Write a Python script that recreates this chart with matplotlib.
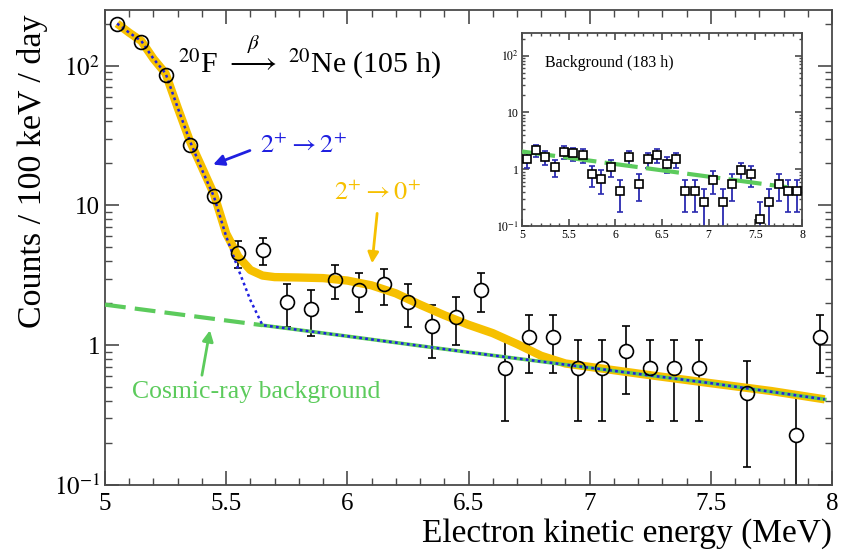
import matplotlib
matplotlib.use("Agg")
import matplotlib.pyplot as plt
from matplotlib.ticker import FixedLocator, LogLocator, MultipleLocator, NullFormatter

plt.rcParams["font.family"] = ["Liberation Serif", "DejaVu Serif"]
plt.rcParams["mathtext.fontset"] = "stix"

# 20F run (105 h): counts / 100 keV / day
E_MAIN = [5.05, 5.15, 5.25, 5.35, 5.45, 5.55, 5.65, 5.75, 5.85, 5.95,
          6.05, 6.15, 6.25, 6.35, 6.45, 6.55, 6.65, 6.75, 6.85, 6.95,
          7.05, 7.15, 7.25, 7.35, 7.45, 7.65, 7.85, 7.95]
RATE_MAIN = [200, 148, 86, 27, 11.6, 4.55, 4.8, 2.05, 1.82, 2.95,
             2.5, 2.73, 2.05, 1.37, 1.6, 2.5, 0.685, 1.14, 1.14, 0.685,
             0.685, 0.91, 0.685, 0.685, 0.685, 0.455, 0.228, 1.14]
ERR_MAIN = [0, 0, 0, 0, 0, 1.0, 1.05, 0.69, 0.65, 0.82,
            0.76, 0.79, 0.69, 0.56, 0.6, 0.76, 0.4, 0.51, 0.51, 0.4,
            0.4, 0.46, 0.4, 0.4, 0.4, 0.32, 0.227, 0.51]

# total fit (2+ -> 0+ included)
FIT_X = [5.05, 5.10, 5.15, 5.20, 5.25, 5.30, 5.35, 5.40, 5.45, 5.50,
         5.55, 5.60, 5.65, 5.70, 5.80, 5.90, 6.00, 6.10, 6.20, 6.30,
         6.40, 6.50, 6.60, 6.70, 6.80, 6.90, 7.00, 7.25, 7.50, 7.75, 7.97]
FIT_Y = [200, 172, 150, 112, 88, 50, 29, 18.7, 12, 6.3,
         4.3, 3.45, 3.15, 3.07, 3.05, 3.02, 2.9, 2.68, 2.35, 1.95,
         1.64, 1.40, 1.22, 1.02, 0.84, 0.74, 0.70, 0.61, 0.535, 0.47, 0.41]

# 2+ -> 2+ component on top of background
BLUE_X = [5.05, 5.10, 5.15, 5.20, 5.25, 5.30, 5.35, 5.40, 5.45, 5.50,
          5.55, 5.60, 5.65, 6.00, 6.50, 7.00, 7.50, 7.97]
BLUE_Y = [200, 172, 150, 112, 88, 50, 29, 18, 11.5, 6.0,
          3.5, 2.1, 1.39, 1.16, 0.89, 0.69, 0.535, 0.41]

# cosmic-ray background
BKG_X = [5.0, 5.65, 6.0, 6.5, 7.0, 7.5, 7.97]
BKG_Y = [1.95, 1.39, 1.16, 0.89, 0.69, 0.535, 0.41]

# background run (183 h)
E_BG = [5.05, 5.15, 5.25, 5.35, 5.45, 5.55, 5.65, 5.75, 5.85, 5.95,
        6.05, 6.15, 6.25, 6.35, 6.45, 6.55, 6.65, 6.75, 6.85, 6.95,
        7.05, 7.15, 7.25, 7.35, 7.45, 7.55, 7.65, 7.75, 7.85, 7.95]
RATE_BG = [1.49, 2.14, 1.64, 1.1, 2.03, 1.9, 1.78, 0.82, 0.67, 1.1,
           0.41, 1.66, 0.55, 1.49, 1.78, 1.25, 1.49, 0.41, 0.41, 0.263,
           0.65, 0.263, 0.55, 0.96, 0.82, 0.133, 0.263, 0.55, 0.41, 0.41]
ERR_BG = [0.44, 0.53, 0.46, 0.38, 0.52, 0.5, 0.48, 0.33, 0.3, 0.38,
          0.23, 0.47, 0.27, 0.44, 0.48, 0.4, 0.44, 0.23, 0.23, 0.186,
          0.29, 0.186, 0.27, 0.35, 0.33, 0.13, 0.186, 0.27, 0.23, 0.23]
BG_LINE_X = [5.0, 7.85]
BG_LINE_Y = [2.05, 0.48]

X_TICKS = [5, 5.5, 6, 6.5, 7, 7.5, 8]
X_LABELS = ["5", "5.5", "6", "6.5", "7", "7.5", "8"]
Y_TICKS = [0.1, 1, 10, 100]
Y_LABELS = [r"$10^{-1}$", "1", "10", r"$10^{2}$"]

ORANGE = "#F6C000"
BLUE = "#1F1FE0"
GREEN = "#5CCB5C"
FRAME = "#4a4a4a"


def style_axes(ax, major_len, minor_len, label_size):
    ax.set_yscale("log")
    ax.set_xlim(5, 8)
    ax.set_ylim(0.1, 250)
    ax.xaxis.set_major_locator(FixedLocator(X_TICKS))
    ax.set_xticklabels(X_LABELS)
    ax.xaxis.set_minor_locator(MultipleLocator(0.1))
    ax.yaxis.set_major_locator(FixedLocator(Y_TICKS))
    ax.set_yticklabels(Y_LABELS)
    ax.yaxis.set_minor_locator(LogLocator(base=10, subs=range(2, 10)))
    ax.yaxis.set_minor_formatter(NullFormatter())
    ax.tick_params(which="both", direction="in", top=True, right=True, color=FRAME,
                   labelsize=label_size)
    ax.tick_params(which="major", length=major_len, width=1.2)
    ax.tick_params(which="minor", length=minor_len, width=1.0)
    for sp in ax.spines.values():
        sp.set_color(FRAME)
        sp.set_linewidth(1.3)


fig = plt.figure(figsize=(8.44, 5.57), dpi=100)
ax = fig.add_axes([105 / 844, 1 - 485 / 557, 727 / 844, 475 / 557])
style_axes(ax, 10, 5, 18)
ax.tick_params(axis="x", pad=6)

# curves
ax.plot(FIT_X, FIT_Y, color=ORANGE, lw=6, solid_capstyle="butt", zorder=3)
dash_n = BKG_X.index(5.65) + 1
ax.plot(BKG_X[:dash_n], BKG_Y[:dash_n], color=GREEN, lw=3, ls=(0, (5, 2.2)),
        dash_capstyle="butt", zorder=4)
ax.plot(BKG_X[dash_n - 1:], BKG_Y[dash_n - 1:], color=GREEN, lw=2.6, zorder=4)
ax.plot(BLUE_X, BLUE_Y, color=BLUE, lw=1.8, ls=(0, (1.1, 1.3)), zorder=5)

# data points
ax.errorbar(E_MAIN, RATE_MAIN, yerr=ERR_MAIN, fmt="none", ecolor="black",
            elinewidth=1.2, capsize=3, capthick=1.2, zorder=2)
ax.plot(E_MAIN, RATE_MAIN, "o", ms=10, mfc="white", mec="none", zorder=2.5)
ax.plot(E_MAIN, RATE_MAIN, "o", ms=10, mfc="none", mec="black", mew=1.2, zorder=6)

ax.set_xlabel("Electron kinetic energy (MeV)", fontsize=24, loc="right", labelpad=2)
ax.set_ylabel("Counts / 100 keV / day", fontsize=24.5, loc="top", labelpad=4)
ax.yaxis.label.set_y(0.99)

ax.text(5.30, 89, r"$^{20}$F $\overset{\beta}{\longrightarrow}$ $^{20}$Ne (105 h)",
        fontsize=21.5, ha="left", va="baseline")

ax.text(5.64, 26.8, r"$2^{+} \rightarrow 2^{+}$", color=BLUE, fontsize=19,
        ha="left", va="center")
ax.annotate("", xy=(5.446, 19.6), xytext=(5.598, 24.7),
            arrowprops=dict(arrowstyle="-|>", color=BLUE, lw=2, mutation_scale=16,
                            shrinkA=0, shrinkB=0))

ax.text(5.947, 12.2, r"$2^{+} \rightarrow 0^{+}$", color=ORANGE, fontsize=19,
        ha="left", va="center")
ax.annotate("", xy=(6.102, 3.85), xytext=(6.123, 8.77),
            arrowprops=dict(arrowstyle="-|>", color=ORANGE, lw=2, mutation_scale=16,
                            shrinkA=0, shrinkB=0))

ax.text(5.111, 0.462, "Cosmic-ray background", color=GREEN, fontsize=18.5,
        ha="left", va="center")
ax.annotate("", xy=(5.433, 1.28), xytext=(5.400, 0.61),
            arrowprops=dict(arrowstyle="-|>", color=GREEN, lw=2, mutation_scale=16,
                            shrinkA=0, shrinkB=0))

# inset: background run
ins = fig.add_axes([522 / 844, 1 - 226 / 557, 280 / 844, 193 / 557])
style_axes(ins, 5, 2.5, 8.5)
ins.tick_params(pad=2)
ins.plot(BG_LINE_X, BG_LINE_Y, color=GREEN, lw=3, ls=(0, (8, 2)),
         dash_capstyle="butt", zorder=3)
ins.errorbar(E_BG, RATE_BG, yerr=ERR_BG, fmt="none", ecolor="#2a2ab0",
             elinewidth=1.3, capsize=2, capthick=1.2, zorder=2)
ins.plot(E_BG, RATE_BG, "s", ms=5.5, mfc="white", mec="black", mew=1.2, zorder=4)
ins.text(5.246, 74, "Background (183 h)", fontsize=11.5, ha="left", va="center")

fig.savefig("out.png", dpi=100)
